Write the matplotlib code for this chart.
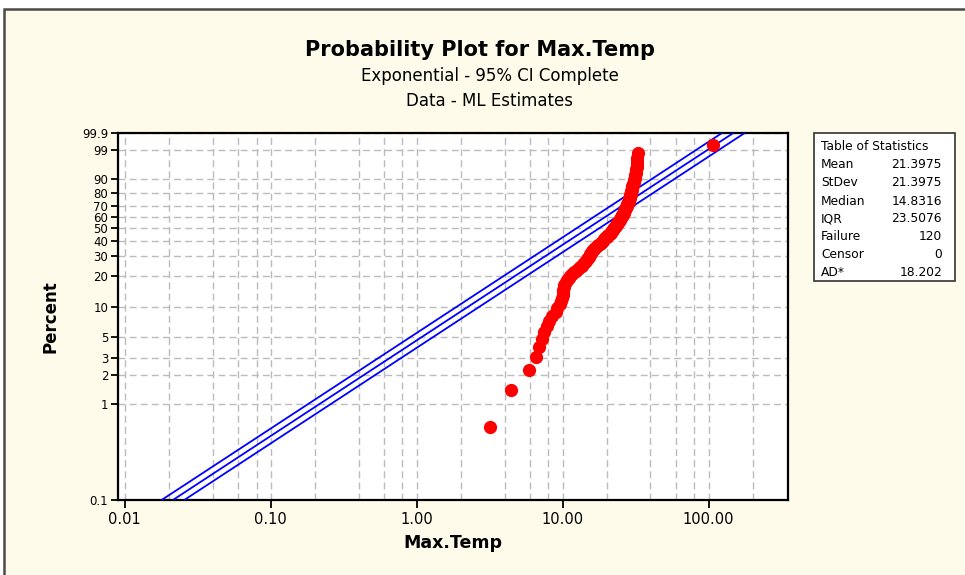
#!/usr/bin/env python3

import numpy as np
import matplotlib
matplotlib.use("Agg")
import matplotlib.pyplot as plt
from matplotlib.patches import Rectangle
from matplotlib.ticker import FixedLocator, NullFormatter


# Max.Temp values, sorted (120 failures)
max_temp = [
    3.2, 4.4, 5.9, 6.6, 6.9, 7.2, 7.5, 7.8, 8.1, 8.5,
    9.0, 9.2, 9.6, 9.8, 9.9, 10.0, 10.0, 10.0, 10.2, 10.3,
    10.5, 10.7, 11.0, 11.3, 11.6, 11.9, 12.3, 12.8, 13.2, 13.6,
    13.9, 14.2, 14.5, 14.7, 15.0, 15.2, 15.4, 15.5, 15.7, 15.9,
    16.1, 16.4, 16.8, 17.1, 17.5, 17.9, 18.2, 18.6, 18.9, 19.3,
    19.6, 20.0, 20.3, 20.6, 21.0, 21.3, 21.6, 21.8, 22.1, 22.3,
    22.6, 22.8, 23.1, 23.3, 23.6, 23.8, 24.1, 24.3, 24.6, 24.8,
    25.0, 25.2, 25.4, 25.6, 25.8, 26.0, 26.2, 26.4, 26.5, 26.6,
    26.8, 27.0, 27.2, 27.4, 27.6, 27.8, 28.0, 28.3, 28.4, 28.5,
    28.6, 28.8, 28.9, 29.0, 29.1, 29.2, 29.4, 29.5, 29.6, 29.8,
    29.9, 30.0, 30.1, 30.2, 30.4, 30.6, 30.8, 31.0, 31.1, 31.3,
    31.4, 31.6, 31.8, 32.0, 32.1, 32.2, 32.3, 32.5, 32.6, 106.5,
]

percent_ticks = [0.1, 1, 2, 3, 5, 10, 20, 30, 40, 50, 60, 70, 80, 90, 99, 99.9]
percent_labels = ["0.1", "1", "2", "3", "5", "10", "20", "30", "40", "50",
                  "60", "70", "80", "90", "99", "99.9"]
x_ticks = [0.01, 0.1, 1, 10, 100]
x_labels = ["0.01", "0.10", "1.00", "10.00", "100.00"]
x_grid = [0.02, 0.04, 0.06, 0.08, 0.2, 0.4, 0.6, 0.8, 2, 4, 6, 8,
          20, 40, 60, 80, 200]

stat_names = ["Mean", "StDev", "Median", "IQR", "Failure", "Censor", "AD*"]
stat_values = ["21.3975", "21.3975", "14.8316", "23.5076", "120", "0", "18.202"]

MEAN = 21.3975   # ML estimate of the exponential scale
N = 120

CREAM = "#fffbeb"
W, H = 965, 575


def prob_y(pct):
    """Exponential probability scale: log10(-ln(1 - p))"""
    p = np.asarray(pct, dtype=float) / 100.0
    return np.log10(-np.log1p(-p))


def main():
    fig = plt.figure(figsize=(W / 100, H / 100), dpi=100, facecolor="white")
    # cream panel with dark border on the left/top (screenshot look)
    fig.patches.append(Rectangle((4 / W, -0.1), 1.2, 1.1 - 9 / H,
                                 transform=fig.transFigure, facecolor=CREAM,
                                 edgecolor="#4a4a4a", linewidth=1.8, zorder=-5))

    ax = fig.add_axes([118 / W, 1 - 500 / H, (788 - 118) / W, (500 - 133) / H])
    ax.set_facecolor("white")
    ax.set_xscale("log")
    ax.set_xlim(0.009, 350)
    ax.set_ylim(prob_y(0.1), prob_y(99.9))

    # fitted exponential line and 95% CI (normal approx on log theta)
    xs = np.logspace(-3, 3.5, 50)
    k = np.exp(1.96 / np.sqrt(N))
    for theta in (MEAN / k, MEAN, MEAN * k):
        ax.plot(xs, np.log10(xs / theta), color="#0000ff", lw=1.3, zorder=3)

    # data with Benard median ranks
    vals = np.sort(np.array(max_temp))
    ranks = np.arange(1, len(vals) + 1)
    pct = 100 * (ranks - 0.3) / (len(vals) + 0.4)
    ax.plot(vals, prob_y(pct), "o", color="#ff0000", ms=9.5, mec="none", zorder=4)

    ax.yaxis.set_major_locator(FixedLocator(prob_y(percent_ticks)))
    ax.set_yticklabels(percent_labels)
    ax.xaxis.set_major_locator(FixedLocator(x_ticks))
    ax.set_xticklabels(x_labels)
    ax.xaxis.set_minor_locator(FixedLocator(x_grid))
    ax.xaxis.set_minor_formatter(NullFormatter())
    ax.tick_params(axis="y", which="major", direction="out", length=5, width=1.3,
                   labelsize=8.5, pad=2)
    ax.tick_params(axis="x", which="major", direction="out", length=6, width=1.3,
                   labelsize=10.5, pad=3)
    ax.tick_params(axis="x", which="minor", length=0)

    ax.grid(True, which="both", color="#bcbcbc", lw=1, ls=(0, (5, 3)), zorder=1)
    for s in ax.spines.values():
        s.set_linewidth(1.6)
        s.set_color("black")

    ax.set_xlabel("Max.Temp", fontsize=12.5, fontweight="bold", labelpad=5)
    ax.set_ylabel("Percent", fontsize=12, fontweight="bold", labelpad=16)

    fig.text(480 / W, 1 - 50 / H, "Probability Plot for Max.Temp", ha="center",
             va="center", fontsize=15, fontweight="bold")
    fig.text(490 / W, 1 - 76 / H, "Exponential - 95% CI Complete", ha="center",
             va="center", fontsize=12)
    fig.text(490 / W, 1 - 101 / H, "Data - ML Estimates", ha="center",
             va="center", fontsize=12)

    # table of statistics
    fig.patches.append(Rectangle((814 / W, 1 - 281 / H), (955 - 814) / W,
                                 (281 - 133) / H, transform=fig.transFigure,
                                 facecolor="white", edgecolor="#333333",
                                 linewidth=1.2, zorder=2))
    fig.text(821 / W, 1 - 147 / H, "Table of Statistics", ha="left", va="center",
             fontsize=8.8)
    rows_y = [164, 182, 201, 219, 237, 255, 273]
    for name, value, yy in zip(stat_names, stat_values, rows_y):
        fig.text(821 / W, 1 - yy / H, name, ha="left", va="center", fontsize=8.8)
        fig.text(942 / W, 1 - yy / H, value, ha="right", va="center", fontsize=8.8)

    fig.savefig("out.png", dpi=100, facecolor=fig.get_facecolor())

    return 0


if __name__ == "__main__":
    main()
